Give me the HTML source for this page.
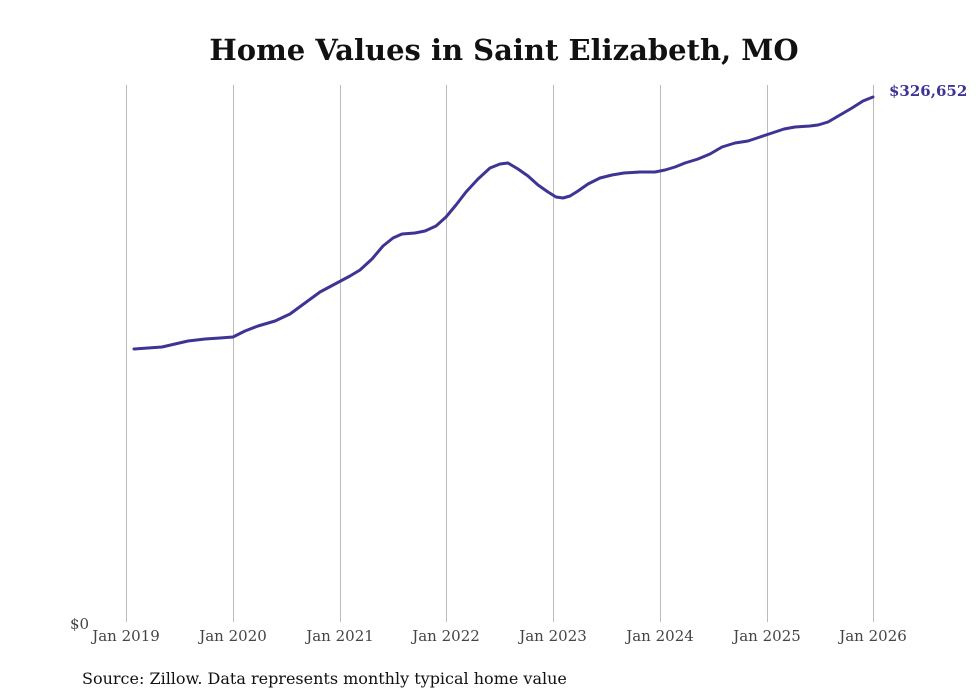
<!DOCTYPE html>
<html><head><meta charset="utf-8"><style>
body{margin:0;background:#fff;}
svg{display:block;font-family:"DejaVu Serif","Liberation Serif",serif;}
</style></head><body>
<svg width="980" height="699" viewBox="0 0 980 699">
<rect width="980" height="699" fill="#fff"/>
<text x="504" y="60" text-anchor="middle" font-size="29" font-weight="bold" fill="#111">Home Values in Saint Elizabeth, MO</text>
<g stroke="#bbb" stroke-width="1">
<line x1="126.5" y1="85" x2="126.5" y2="622"/>
<line x1="233.5" y1="85" x2="233.5" y2="622"/>
<line x1="340.5" y1="85" x2="340.5" y2="622"/>
<line x1="446.5" y1="85" x2="446.5" y2="622"/>
<line x1="553.5" y1="85" x2="553.5" y2="622"/>
<line x1="660.5" y1="85" x2="660.5" y2="622"/>
<line x1="767.5" y1="85" x2="767.5" y2="622"/>
<line x1="873.5" y1="85" x2="873.5" y2="622"/>
</g>
<g font-size="15" fill="#444" text-anchor="middle">
<text x="126" y="641">Jan 2019</text>
<text x="233" y="641">Jan 2020</text>
<text x="340" y="641">Jan 2021</text>
<text x="446" y="641">Jan 2022</text>
<text x="553" y="641">Jan 2023</text>
<text x="660" y="641">Jan 2024</text>
<text x="767" y="641">Jan 2025</text>
<text x="873" y="641">Jan 2026</text>
</g>
<text x="70" y="629" font-size="15" fill="#444">$0</text>
<polyline fill="none" stroke="#3d3494" stroke-width="3" stroke-linejoin="round" stroke-linecap="round" points="134,349 148,348 162,347 175,344 188,341 205,339 220,338 233,337 245,331 258,326 275,321 290,314 305,303 320,292 335,284 350,276 360,270 372,259 383,246 393,238 402,234 415,233 425,231 436,226 446,217 456,205 466,192 478,179 490,168 500,164 508,163 518,169 528,176 538,185 548,192 556,197 563,198 570,196 578,191 588,184 600,178 612,175 624,173 640,172 655,172 665,170 675,167 685,163 698,159 710,154 722,147 735,143 748,141 760,137 772,133 784,129 795,127 810,126 818,125 828,122 840,115 852,108 863,101 873,97"/>
<text x="889" y="96" font-size="15" font-weight="bold" fill="#3d3494">$326,652</text>
<text x="82" y="684" font-size="16" fill="#111">Source: Zillow. Data represents monthly typical home value</text>
</svg>
</body></html>
